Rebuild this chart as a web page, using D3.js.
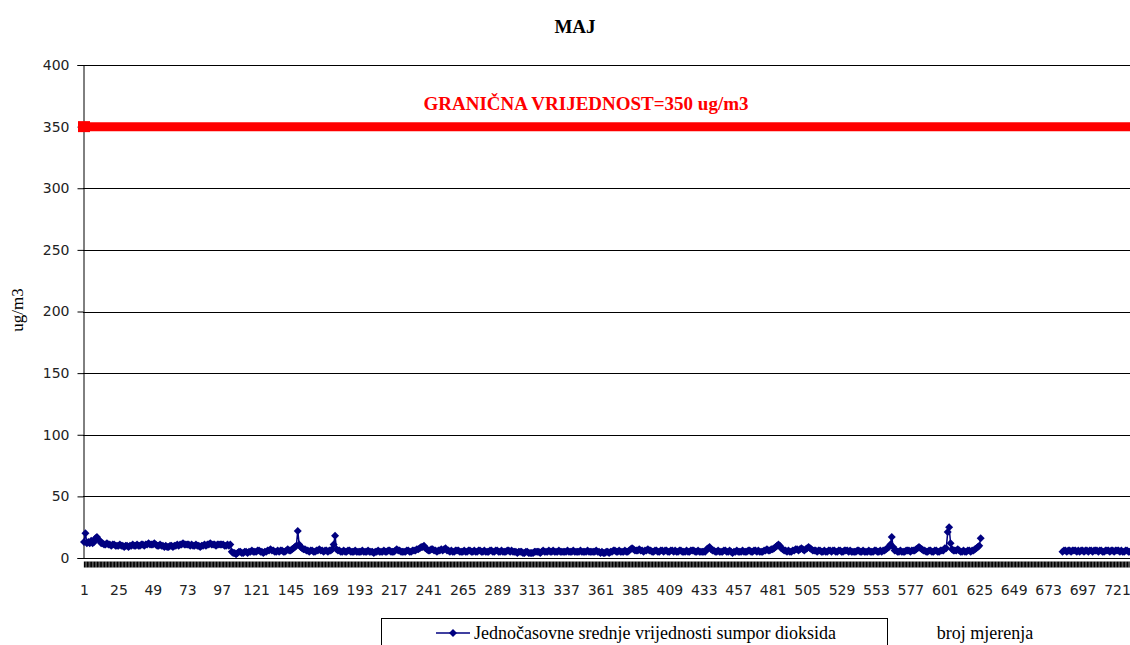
<!DOCTYPE html>
<html>
<head>
<meta charset="utf-8">
<script src="https://cdn.jsdelivr.net/npm/d3@7"></script>
<style>
  body { margin: 0; background: #fff; }
  svg { display: block; }
  .serif { font-family: "Liberation Serif", "DejaVu Serif", serif; }
  .sans { font-family: "DejaVu Sans", sans-serif; }
</style>
</head>
<body>
<div id="chart"></div>
<script>
var width = 1130;
var height = 645;

// hourly SO2 values for May (one row per day, null = no measurement)
var so2Hourly = [
  13,20,12,13,12,14,12,13,16,17,15,14,12,12,11,11,12,11,11,10,11,11,10,10,
  10,11,10,10,9,10,10,9,10,10,11,10,10,11,10,10,11,11,10,11,11,12,11,11,
  11,12,11,10,10,11,10,10,9,10,9,9,10,10,9,10,10,11,10,11,11,12,11,11,
  11,11,10,11,10,10,11,10,10,9,10,10,11,10,11,11,12,11,11,11,10,11,11,11,
  11,11,10,10,11,10,11,5,4,4,3,4,5,5,4,4,5,5,4,5,5,6,5,5,
  5,6,6,5,5,4,5,5,6,6,7,6,6,5,5,6,5,6,6,5,5,6,7,6,
  6,7,8,9,10,22,11,9,8,7,7,6,6,5,6,6,5,5,6,6,7,6,6,5,
  6,6,5,6,6,7,11,18,7,6,6,5,5,6,5,5,6,6,5,5,5,6,5,5,
  5,5,6,5,5,5,6,5,5,5,4,5,5,6,5,5,5,6,5,5,6,6,5,5,
  5,6,7,6,6,5,5,5,5,6,6,5,5,6,6,6,7,7,8,9,9,10,8,7,
  6,6,7,7,6,6,5,6,6,7,6,7,8,6,6,5,6,5,5,6,6,6,5,5,
  5,6,5,5,6,6,5,5,6,5,5,6,6,5,5,6,5,5,5,6,6,5,5,6,
  6,5,5,6,5,5,5,6,6,5,6,5,5,5,4,5,5,5,4,4,5,5,4,4,
  4,4,5,5,5,5,4,5,6,5,5,5,6,5,5,6,5,5,5,6,5,5,5,5,
  5,6,5,5,5,6,5,5,5,5,6,5,5,5,5,6,5,5,5,5,5,6,5,5,
  4,5,4,4,5,5,4,5,5,6,6,5,5,6,5,5,5,6,5,5,6,7,8,7,
  6,6,6,7,6,6,5,6,6,7,6,6,5,5,6,6,5,5,6,6,5,6,6,5,
  5,6,6,5,6,5,5,6,6,5,5,5,6,5,5,6,6,6,5,5,6,5,5,5,
  5,5,7,8,9,7,6,6,5,5,6,5,5,5,6,6,5,5,6,5,4,5,5,6,
  5,5,5,6,5,5,5,6,6,5,5,6,6,5,6,5,5,5,6,6,7,6,6,7,
  7,8,9,10,11,10,8,7,6,6,5,6,5,5,6,6,7,7,6,7,8,7,6,7,
  8,9,8,7,6,6,6,5,6,6,5,5,6,5,5,6,6,5,6,6,5,5,6,6,
  5,5,6,6,6,5,6,5,5,5,5,6,6,5,5,6,5,5,5,6,5,5,5,6,
  6,5,5,6,5,6,6,7,8,9,11,17,9,6,6,5,5,6,5,5,5,6,6,6,
  5,6,6,6,7,8,9,8,7,6,6,5,5,6,6,5,5,6,6,5,5,6,6,6,
  8,8,21,25,12,7,6,6,6,7,6,5,5,6,5,5,6,6,5,6,6,7,8,9,
  10,16,null,null,null,null,null,null,null,null,null,null,null,null,null,null,null,null,null,null,null,null,null,null,
  null,null,null,null,null,null,null,null,null,null,null,null,null,null,null,null,null,null,null,null,null,null,null,null,
  null,null,null,null,null,null,null,null,null,null,5,6,6,5,6,6,5,6,6,6,5,6,5,6,
  6,5,6,6,5,6,6,5,6,6,6,5,6,6,5,5,6,6,6,5,6,6,5,6,
  6,6,5,6,5,5,6,6,5,5,6,6,5,6,5,5,6,5,5,6,6,5,5,6
];

var limitValue = 350;
var yTicks = [0, 50, 100, 150, 200, 250, 300, 350, 400];
var xTickLabels = [1, 25, 49, 73, 97, 121, 145, 169, 193, 217, 241, 265, 289, 313, 337,
  361, 385, 409, 433, 457, 481, 505, 529, 553, 577, 601, 625, 649, 673, 697, 721];

var titleText = "MAJ";
var limitText = "GRANIČNA VRIJEDNOST=350 ug/m3";
var seriesName = "Jednočasovne srednje vrijednosti sumpor dioksida";
var xTitle = "broj mjerenja";
var yTitle = "ug/m3";

var navy = "#000080";

var svg = d3.select("#chart").append("svg")
  .attr("width", width)
  .attr("height", height);

var hours = d3.range(1, so2Hourly.length + 1);
var data = hours.map(function(h, i) { return {hour: h, value: so2Hourly[i]}; });

var x = d3.scalePoint().domain(hours).range([84, 1150]);
var y = d3.scaleLinear().domain([0, 400]).range([558, 65]);
var plotLeft = 83;

// horizontal gridlines
svg.append("g")
  .selectAll("line")
  .data(yTicks.filter(function(d) { return d > 0; }))
  .enter().append("line")
  .attr("x1", plotLeft).attr("x2", width)
  .attr("y1", function(d) { return Math.round(y(d)) + 0.5; })
  .attr("y2", function(d) { return Math.round(y(d)) + 0.5; })
  .attr("stroke", "#000")
  .attr("stroke-width", 1);

// y axis
var yAxis = svg.append("g")
  .attr("transform", "translate(" + (plotLeft + 0.5) + ",0)")
  .call(d3.axisLeft(y).tickValues(yTicks).tickSize(6).tickPadding(8));
yAxis.selectAll("text").attr("class", "sans").attr("font-size", 14).attr("fill", "#222");
yAxis.select(".domain").attr("stroke", "#000");

// x axis: tick mark for every measurement, labels every 24
var xAxis = svg.append("g")
  .attr("transform", "translate(0," + (Math.round(y(0)) + 0.5) + ")")
  .call(d3.axisBottom(x).tickSize(9).tickPadding(18)
    .tickFormat(function(d) { return xTickLabels.indexOf(d) >= 0 ? d : ""; }));
xAxis.select(".domain").attr("d", "M" + plotLeft + ",0H" + width).attr("stroke", "#000");
xAxis.selectAll(".tick line").attr("stroke", "#000").attr("stroke-width", 1.3).attr("y1", 3);
xAxis.selectAll("text").attr("class", "sans").attr("font-size", 14).attr("fill", "#222");

// limit line
svg.append("line")
  .attr("x1", x(hours[0])).attr("x2", x(hours[hours.length - 1]))
  .attr("y1", y(limitValue)).attr("y2", y(limitValue))
  .attr("stroke", "#ff0000")
  .attr("stroke-width", 9);
svg.append("rect")
  .attr("x", x(hours[0]) - 6).attr("y", y(limitValue) - 5.5)
  .attr("width", 12).attr("height", 11)
  .attr("fill", "#ff0000");

svg.append("text")
  .attr("class", "serif")
  .attr("x", 586).attr("y", 110)
  .attr("text-anchor", "middle")
  .attr("font-weight", "bold").attr("font-size", 19)
  .attr("fill", "#ff0000")
  .text(limitText);

// measurement series
var line = d3.line()
  .defined(function(d) { return d.value != null; })
  .x(function(d) { return x(d.hour); })
  .y(function(d) { return y(d.value); });

svg.append("path")
  .datum(data)
  .attr("d", line)
  .attr("fill", "none")
  .attr("stroke", navy)
  .attr("stroke-width", 1.5);

var diamond = "M0,-4L4,0L0,4L-4,0Z";
svg.append("g")
  .selectAll("path")
  .data(data.filter(function(d) { return d.value != null; }))
  .enter().append("path")
  .attr("d", diamond)
  .attr("transform", function(d) { return "translate(" + x(d.hour) + "," + y(d.value) + ")"; })
  .attr("fill", navy);

// title
svg.append("text")
  .attr("class", "serif")
  .attr("x", 575).attr("y", 33)
  .attr("text-anchor", "middle")
  .attr("font-weight", "bold").attr("font-size", 19)
  .text(titleText);

// y title
svg.append("text")
  .attr("class", "serif")
  .attr("transform", "translate(23,310) rotate(-90)")
  .attr("text-anchor", "middle")
  .attr("font-size", 17)
  .text(yTitle);

// x title
svg.append("text")
  .attr("class", "serif")
  .attr("x", 985).attr("y", 639)
  .attr("text-anchor", "middle")
  .attr("font-size", 18)
  .text(xTitle);

// legend
var legend = svg.append("g");
legend.append("rect")
  .attr("x", 381.5).attr("y", 618.5)
  .attr("width", 506).attr("height", 40)
  .attr("fill", "none").attr("stroke", "#000");
legend.append("line")
  .attr("x1", 436).attr("x2", 470)
  .attr("y1", 633).attr("y2", 633)
  .attr("stroke", navy).attr("stroke-width", 1.5);
legend.append("path")
  .attr("d", diamond)
  .attr("transform", "translate(453,633)")
  .attr("fill", navy);
legend.append("text")
  .attr("class", "serif")
  .attr("x", 474).attr("y", 639)
  .attr("font-size", 18)
  .text(seriesName);
</script>
</body>
</html>
